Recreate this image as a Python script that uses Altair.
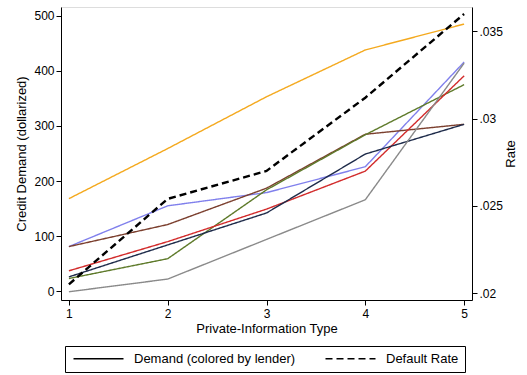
import altair as alt
import pandas as pd

# ---- data ----
info_types = [1, 2, 3, 4, 5]
lenders = ["L1", "L2", "L3", "L4", "L5", "L6", "L7"]
demand_L1 = [168, 259, 353, 438, 485]   # orange
demand_L2 = [81, 155, 179, 226, 416]    # light blue
demand_L3 = [81, 121, 187, 285, 303]    # brown
demand_L4 = [23, 59, 184, 284, 375]     # olive green
demand_L5 = [37, 90, 149, 218, 391]     # red
demand_L6 = [26, 84, 142, 249, 303]     # navy
demand_L7 = [-1, 22, 94, 166, 414]      # gray
default_rate = [0.0205, 0.0254, 0.0270, 0.0312, 0.0360]

lender_colors = ["#F4A91E", "#8080EC", "#7B3F2E", "#5E7A2A", "#D22B2B", "#1E2B4A", "#8A8A8A"]
kind_labels = ["Demand (colored by lender)", "Default Rate"]

demand_series = [demand_L1, demand_L2, demand_L3, demand_L4, demand_L5, demand_L6, demand_L7]
rows = []
for name, vals in zip(lenders, demand_series):
    for t, v in zip(info_types, vals):
        rows.append({"type": t, "demand": v, "lender": name, "kind": kind_labels[0]})
demand_df = pd.DataFrame(rows)
rate_df = pd.DataFrame({"type": info_types, "rate": default_rate, "kind": kind_labels[1]})

FONT = "Liberation Sans"

x_enc = alt.X(
    "type:Q",
    scale=alt.Scale(domain=[0.92, 5.08], nice=False, zero=False),
    axis=alt.Axis(values=info_types, format="d", title="Private-Information Type",
                  grid=False, tickSize=5, tickColor="black", domainColor="black",
                  labelFontSize=12, titleFontSize=13, labelFont=FONT, titleFont=FONT,
                  labelColor="black", titleColor="black", labelPadding=3, titlePadding=3,
                  titleFontWeight="normal", labelFlush=False),
)

dash_enc = alt.StrokeDash(
    "kind:N",
    scale=alt.Scale(domain=kind_labels, range=[[1, 0], [7, 4]]),
    legend=alt.Legend(
        title=None, orient="none", legendX=4, legendY=339, direction="horizontal",
        strokeColor="black", padding=6, columnPadding=26,
        symbolType="M-0.8,0H9.2", symbolSize=100, symbolStrokeWidth=1.5,
        symbolStrokeColor="black",
        labelFontSize=13, labelFont=FONT, labelColor="black", labelOffset=50,
        labelLimit=300,
    ),
)

demand = alt.Chart(demand_df).mark_line(strokeWidth=1.4).encode(
    x=x_enc,
    y=alt.Y("demand:Q",
            scale=alt.Scale(domain=[-16, 516], nice=False, zero=False),
            axis=alt.Axis(values=[0, 100, 200, 300, 400, 500], orient="left",
                          title="Credit Demand (dollarized)", grid=False, tickSize=5,
                          tickColor="black", domainColor="black", labelFontSize=12,
                          titleFontSize=13, labelFont=FONT, titleFont=FONT,
                          labelColor="black", titleColor="black", titleFontWeight="normal",
                          labelPadding=2, titlePadding=5)),
    color=alt.Color("lender:N", scale=alt.Scale(domain=lenders, range=lender_colors), legend=None),
    strokeDash=dash_enc,
    detail="lender:N",
)

rate = alt.Chart(rate_df).mark_line(strokeWidth=2.4, color="black").encode(
    x=x_enc,
    y=alt.Y("rate:Q",
            scale=alt.Scale(domain=[0.0196, 0.0364], nice=False, zero=False),
            axis=alt.Axis(values=[0.02, 0.025, 0.03, 0.035], orient="right",
                          labelExpr="slice(format(datum.value, '.3~f'), 1)",
                          title="Rate", titleAngle=270, grid=False, tickSize=5,
                          tickColor="black", domainColor="black", labelFontSize=12,
                          titleFontSize=13, labelFont=FONT, titleFont=FONT,
                          labelColor="black", titleColor="black", titleFontWeight="normal",
                          labelPadding=2, titlePadding=15)),
    strokeDash=dash_enc,
)

chart = alt.layer(demand, rate).resolve_scale(y="independent").properties(
    width=411, height=293,
    autosize=alt.AutoSizeParams(type="none"),
    padding={"left": 61, "top": 7, "right": 55, "bottom": 75},
).configure_view(stroke=None).configure(background="white")

chart.save("out.html", embed_options={"renderer": "svg", "actions": False})
